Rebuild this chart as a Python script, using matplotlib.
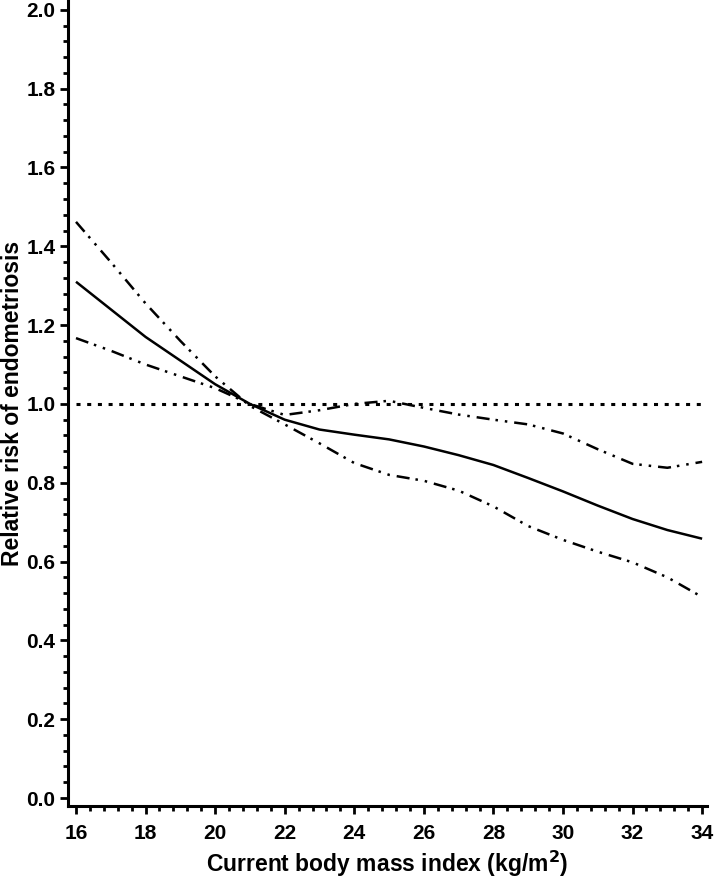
import matplotlib
matplotlib.use("Agg")
import matplotlib.pyplot as plt
from matplotlib.ticker import MultipleLocator, FormatStrFormatter

plt.rcParams['font.family'] = ['Liberation Sans', 'DejaVu Sans']
plt.rcParams['lines.scale_dashes'] = False

# Data
bmi = [16, 17, 18, 19, 20, 21, 22, 23, 24, 25, 26, 27, 28, 29, 30, 31, 32, 33, 34]
rr = [1.31, 1.24, 1.17, 1.11, 1.05, 1.00, 0.96, 0.935, 0.922, 0.910, 0.892,
      0.870, 0.845, 0.812, 0.778, 0.742, 0.708, 0.680, 0.658]
ci_a = [1.462, 1.36, 1.255, 1.16, 1.07, 0.995, 0.948, 0.900, 0.850, 0.820, 0.805,
        0.780, 0.740, 0.690, 0.655, 0.625, 0.598, 0.560, 0.510]
ci_b = [1.167, 1.135, 1.100, 1.070, 1.040, 1.000, 0.972, 0.984, 1.000, 1.008, 0.990,
        0.973, 0.960, 0.948, 0.925, 0.885, 0.848, 0.838, 0.853]
ref_x = [16, 34]
ref_y = [1.0, 1.0]

xlabel = "Current body mass index (kg/m$^\\mathbf{2}$)"
ylabel = "Relative risk of endometriosis"

fig = plt.figure(figsize=(7.14, 8.81), dpi=100)
ax = fig.add_axes([68/714, 75/881, (707-68)/714, (806-0)/881])

lw = 1.8
ax.plot(ref_x, ref_y, color='black', lw=2.2, dashes=(2.9, 4.8), dash_capstyle='butt')
ax.plot(bmi, rr, color='black', lw=lw, solid_capstyle='butt')
ddd = (9.4, 4.3, 1.8, 5.0, 1.8, 5.0)
ax.plot(bmi, ci_a, color='black', lw=lw, dashes=ddd)
ax.plot(bmi, ci_b, color='black', lw=lw, dashes=ddd)

ax.set_xlim(15.77, 34.14)
ax.set_ylim(-0.0203, 2.025)

ax.spines['top'].set_visible(False)
ax.spines['right'].set_visible(False)
for s in ('left', 'bottom'):
    ax.spines[s].set_linewidth(2.2)

ax.xaxis.set_major_locator(MultipleLocator(2))
ax.xaxis.set_minor_locator(MultipleLocator(0.4))
ax.yaxis.set_major_locator(MultipleLocator(0.2))
ax.yaxis.set_minor_locator(MultipleLocator(0.04))
ax.yaxis.set_major_formatter(FormatStrFormatter('%.1f'))

ax.tick_params(which='major', direction='out', length=6, width=2.0, labelsize=15, pad=3)
ax.tick_params(axis='x', which='major', pad=7)
ax.tick_params(which='minor', direction='out', length=3.5, width=2.0)
for lab in ax.get_xticklabels() + ax.get_yticklabels():
    lab.set_fontweight('bold')

ax.set_xlabel(xlabel, fontsize=16.5, fontweight='bold')
ax.set_ylabel(ylabel, fontsize=16.5, fontweight='bold')
ax.xaxis.set_label_coords(0.5, -(864 - 806) / 806)
ax.xaxis.label.set_va('center')
ax.yaxis.set_label_coords(-(68 - 13) / 639, 0.5)
ax.yaxis.label.set_va('center')

fig.savefig('out.png', dpi=100)
